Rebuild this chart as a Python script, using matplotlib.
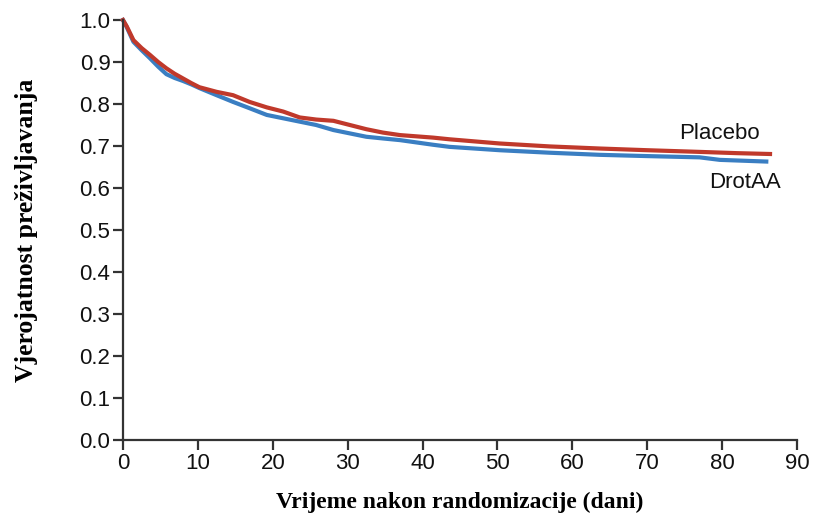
import matplotlib
matplotlib.use("Agg")
import matplotlib.pyplot as plt
from matplotlib import font_manager

days_placebo = [0, 0.5, 1.4, 2.5, 3.6, 4.7, 5.8, 6.9, 8.0, 9.1, 10.2, 12.5, 14.7, 16.9, 19.2, 21.4, 23.6, 25.8, 28.1, 30.3, 32.5, 34.7, 37.0, 41.4, 43.6, 50.3, 57.0, 63.7, 70.0, 77.0, 82.0, 86.4]
surv_placebo = [1.0, 0.985, 0.952, 0.933, 0.917, 0.900, 0.885, 0.872, 0.861, 0.850, 0.840, 0.829, 0.821, 0.805, 0.792, 0.782, 0.768, 0.763, 0.760, 0.750, 0.740, 0.732, 0.726, 0.720, 0.716, 0.706, 0.699, 0.694, 0.690, 0.686, 0.683, 0.681]

days_drotaa = [0, 0.5, 1.4, 2.5, 3.6, 4.7, 5.8, 6.9, 8.0, 9.1, 10.2, 12.5, 14.7, 16.9, 19.2, 21.4, 23.6, 25.8, 28.1, 30.3, 32.5, 34.7, 37.0, 41.4, 43.6, 50.3, 57.0, 63.7, 70.0, 77.0, 79.7, 85.9]
surv_drotaa = [1.0, 0.983, 0.948, 0.928, 0.909, 0.889, 0.871, 0.862, 0.855, 0.847, 0.838, 0.821, 0.805, 0.790, 0.774, 0.766, 0.758, 0.750, 0.738, 0.730, 0.722, 0.718, 0.714, 0.703, 0.698, 0.690, 0.684, 0.679, 0.676, 0.673, 0.667, 0.663]

x_ticks = [0, 10, 20, 30, 40, 50, 60, 70, 80, 90]
y_ticks = [0.0, 0.1, 0.2, 0.3, 0.4, 0.5, 0.6, 0.7, 0.8, 0.9, 1.0]

names = {f.name for f in font_manager.fontManager.ttflist}
narrow = "Liberation Sans Narrow" if "Liberation Sans Narrow" in names else "Liberation Sans"

fig = plt.figure(figsize=(8.16, 5.17), dpi=100)
ax = fig.add_axes([0.1507, 0.1489, 0.8260, 0.8124])

red = "#c0392b"
blue = "#3a7ec2"
ax.plot(days_drotaa, surv_drotaa, color=blue, lw=3.0, clip_on=False, solid_joinstyle="round")
ax.plot(days_placebo, surv_placebo, color=red, lw=3.0, clip_on=False, solid_joinstyle="round")

ax.set_xlim(0, 90)
ax.set_ylim(0, 1.0)
ax.set_xticks(x_ticks)
ax.set_yticks(y_ticks)
ax.set_xticklabels([str(t) for t in x_ticks], fontfamily=narrow, fontsize=16)
ax.set_yticklabels([f"{t:.1f}" for t in y_ticks], fontfamily=narrow, fontsize=16)

for s in ["top", "right"]:
    ax.spines[s].set_visible(False)
for s in ["left", "bottom"]:
    ax.spines[s].set_linewidth(1.6)
    ax.spines[s].set_color("#333333")
ax.tick_params(direction="out", length=7, width=1.6, color="#333333", labelcolor="#111111", pad=2)

ax.set_xlabel("Vrijeme nakon randomizacije (dani)", fontfamily="Liberation Serif",
              fontweight="bold", fontsize=17, labelpad=13)
ax.set_ylabel("Vjerojatnost preživljavanja", fontfamily="Liberation Serif",
              fontweight="bold", fontsize=18.5, labelpad=30)

ax.annotate("Placebo", xy=(79.6, 0.729), ha="center", va="center", fontsize=16,
            fontfamily="Liberation Sans", color="#111111")
ax.annotate("DrotAA", xy=(83.0, 0.614), ha="center", va="center", fontsize=16,
            fontfamily="Liberation Sans", color="#111111", annotation_clip=False)

fig.savefig("out.png", dpi=100)
